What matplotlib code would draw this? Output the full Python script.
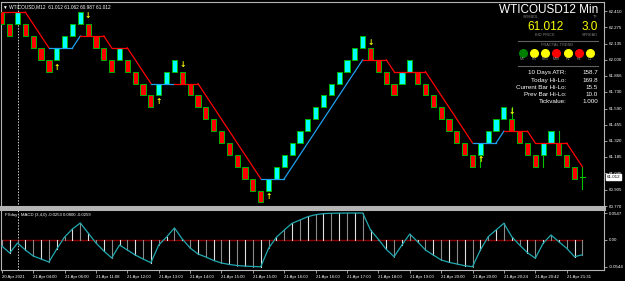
import matplotlib
matplotlib.use("Agg")
import matplotlib.pyplot as plt

# renko bricks (top price of each brick, d = down/red, u = up/cyan)
brick_top = [62.4, 62.3, 62.4, 62.3, 62.2, 62.1, 62.0, 62.1, 62.2, 62.3,
             62.4, 62.3, 62.2, 62.1, 62.0, 62.1, 62.0, 61.9, 61.8, 61.7,
             61.8, 61.9, 62.0, 61.9, 61.8, 61.7, 61.6, 61.5, 61.4, 61.3,
             61.2, 61.1, 61.0, 60.9, 61.0, 61.1, 61.2, 61.3, 61.4, 61.5,
             61.6, 61.7, 61.8, 61.9, 62.0, 62.1, 62.2, 62.1, 62.0, 61.9,
             61.8, 61.9, 62.0, 61.9, 61.8, 61.7, 61.6, 61.5, 61.4, 61.3,
             61.2, 61.3, 61.4, 61.5, 61.6, 61.5, 61.4, 61.3, 61.2, 61.3,
             61.4, 61.3, 61.2, 61.1]
brick_dir = list("dduddddu" "uuudddd" "udddduuu" "ddddddddddd" "uuuuuuuuuuuuu"
                 "dddduu" "dddddddd" "uuuu" "dddduu" "ddd")
brick_size = 0.1

# last (open) bar and wicks
last_price = 61.012
wick_x = [61, 65, 69, 71, 74]
wick_low = [61.1, 61.5, 61.1, 61.3, 60.91]
wick_high = [61.2, 61.6, 61.2, 61.4, 61.1]

# fractal arrows
up_x = [7, 20, 34, 61]
up_y = [61.933, 61.645, 60.854, 61.163]
down_x = [11, 23, 47, 65]
down_y = [62.370, 61.964, 62.143, 61.563]

# trailing trend line
trend_x = [0, 3, 6, 9, 10, 13, 14, 16, 19, 22, 25, 33, 36, 46, 49, 50, 54, 60, 63, 64, 67, 68, 72, 74]
trend_y = [62.4, 62.4, 62.1, 62.1, 62.2, 62.2, 62.1, 62.1, 61.8, 61.8, 61.8, 61.0, 61.0, 62.0,
           62.0, 61.9, 61.9, 61.3, 61.3, 61.4, 61.4, 61.3, 61.3, 61.1]
trend_dir = list("rrbbrrrrbrrbbrrrrbbrrrr")

# MACD
macd = [-0.0122, -0.0264, -0.0061, -0.0203, -0.0325, -0.0386, -0.0447, -0.0183, 0.0061, 0.0223,
        0.0345, 0.0142, -0.0061, -0.0223, -0.0365, -0.0102, -0.0203, -0.0305, -0.0386, -0.0461,
        -0.0102, 0.0061, 0.0244, 0.0020, -0.0162, -0.0284, -0.0345, -0.0416, -0.0467, -0.0497,
        -0.0518, -0.0530, -0.0538, -0.0544, -0.0168, 0.0055, 0.0203, 0.0339, 0.0406, 0.0473,
        0.0514, 0.0535, 0.0542, 0.0545, 0.0547, 0.0547, 0.0547, 0.0203, 0.0014, -0.0189,
        -0.0339, -0.0102, 0.0122, -0.0035, -0.0203, -0.0305, -0.0406, -0.0453, -0.0487, -0.0522,
        -0.0542, -0.0203, 0.0067, 0.0203, 0.0339, 0.0067, -0.0102, -0.0258, -0.0371, -0.0067,
        0.0102, -0.0035, -0.0168, -0.0339, -0.0300]

price_ticks = [62.410, 62.275, 62.135, 62.000, 61.866, 61.730, 61.590, 61.455,
               61.320, 61.185, 61.045, 60.905, 60.770]
time_labels = ["20 Apr 2021", "21 Apr 04:00", "21 Apr 06:00", "21 Apr 11:08", "21 Apr 12:00",
               "21 Apr 13:00", "21 Apr 14:00", "21 Apr 15:00", "21 Apr 15:00", "21 Apr 16:00",
               "21 Apr 16:00", "21 Apr 17:00", "21 Apr 18:00", "21 Apr 19:00", "21 Apr 20:00",
               "21 Apr 20:00", "21 Apr 20:24", "21 Apr 20:42", "21 Apr 21:31"]
time_pos = list(range(0, 76, 4))

tf_names = ["M1", "M5", "M15", "M30", "H1", "H4", "D1"]
tf_colors = ["#008000", "#ffff00", "#ffff00", "#ff0000", "#ffff00", "#ff0000", "#ffff00"]
stat_names = ["10 Days ATR:", "Today Hi-Lo:", "Current Bar Hi-Lo:", "Prev Bar Hi-Lo:", "Tickvalue:"]
stat_values = ["158.7", "169.8", "15.5", "10.0", "1.000"]

W, H = 625, 281
plt.rcParams["font.family"] = ["Liberation Sans", "DejaVu Sans"]
fig = plt.figure(figsize=(W / 100, H / 100), dpi=100, facecolor="black")


def box(l, t, r, b):
    return [l / W, 1 - b / H, (r - l) / W, (b - t) / H]


def fx(x):
    return x / W


def fy(y):
    return 1 - y / H


GRAY = "#b4b4b4"
ax = fig.add_axes(box(1, 2, 604, 207), facecolor="black")
ax2 = fig.add_axes(box(1, 209, 604, 270), facecolor="black")
xmin, xmax = -0.108, 76.76
for a in (ax, ax2):
    a.set_xlim(xmin, xmax)
    for s in a.spines.values():
        s.set_color(GRAY)
        s.set_linewidth(0.8)
    a.tick_params(axis="y", which="both", left=False, right=True, labelleft=False,
                  labelright=True, colors=GRAY, labelcolor="white", labelsize=3.2,
                  length=2, width=0.6, pad=1.2)
    a.axvline(2, color="#d0d0d0", ls=(0, (1.5, 1.5)), lw=0.7)
ax.spines["bottom"].set_linewidth(2.2)
ax2.spines["top"].set_linewidth(2.2)
ax.set_xticks([])
ax.set_ylim(60.7616, 62.4857)
ax.set_yticks(price_ticks)
ax.set_yticklabels([f"{p:.3f}" for p in price_ticks])

# bricks
n = len(brick_top)
for i in range(n):
    col = "#ff0000" if brick_dir[i] == "d" else "#00ffff"
    ax.bar(i, brick_size, bottom=brick_top[i] - brick_size, width=0.66,
           color=col, edgecolor="#00b400", linewidth=0.7, zorder=3)
for xi, lo, hi in zip(wick_x, wick_low, wick_high):
    ax.plot([xi, xi], [lo, hi], color="#00c000", lw=0.8, zorder=2)
ax.plot([n - 0.33, n + 0.33], [last_price, last_price], color="#00c000", lw=0.8, zorder=3)

# trend line
for k in range(len(trend_x) - 1):
    c = "#ff0000" if trend_dir[k] == "r" else "#1ea0ee"
    ax.plot(trend_x[k:k + 2], trend_y[k:k + 2], color=c, lw=0.9, zorder=4)

# fractal arrows
for xi, yi in zip(up_x, up_y):
    ax.text(xi, yi, "\u2191", color="#ffff00", fontsize=5.5, fontweight="bold",
            ha="center", va="center", family="DejaVu Sans", zorder=5)
for xi, yi in zip(down_x, down_y):
    ax.text(xi, yi, "\u2193", color="#ffff00", fontsize=5.5, fontweight="bold",
            ha="center", va="center", family="DejaVu Sans", zorder=5)

# current price box
ax.text(1.004, last_price, f"{last_price:.3f}", transform=ax.get_yaxis_transform(),
        color="black", fontsize=3.2, ha="left", va="center", zorder=6,
        bbox=dict(boxstyle="square,pad=0.2", fc="white", ec="white"), clip_on=False)

# MACD panel
ax2.set_ylim(-0.0609, 0.0629)
ax2.set_yticks([0.0547, 0.0, -0.0544])
ax2.set_yticklabels(["0.0547", "0.00", "-0.0544"])
mx = list(range(len(macd)))
ax2.plot([0, len(macd) - 1], [0, 0], color="#8b0000", lw=1.0, zorder=2)
for i, v in enumerate(macd):
    ax2.plot([i, i], [0, v], color="#e0e0e0" if i % 2 else "#8a8a8a", lw=0.8, zorder=3)
ax2.plot(mx, macd, color="#21a9b0", lw=0.9, zorder=4)
ax2.set_xticks(time_pos)
ax2.set_xticklabels(time_labels, ha="left")
ax2.tick_params(axis="x", colors=GRAY, labelcolor="white", labelsize=3.1, length=2.5,
                width=0.6, pad=1.2)
ax2.text(0.006, 0.93, "FXday - MACD (3,4,0) -0.0253 0.0800 -0.0259", transform=ax2.transAxes,
         color="white", fontsize=3.1, ha="left", va="top")

# header text
fig.text(fx(3), fy(6.5), "\u25bc WTICOUSD,M12  61.012 61.062 60.987 61.012", color="white",
         fontsize=3.4, ha="left", va="center")

# info panel
fig.text(fx(598), fy(10), "WTICOUSD12 Min", color="white", fontsize=8.5, ha="right", va="center")
fig.text(fx(531), fy(16.5), "SYMBOL", color="#808080", fontsize=2.8, ha="center", va="center")
fig.text(fx(595), fy(16.5), "TF", color="#808080", fontsize=2.8, ha="center", va="center")
fig.text(fx(545), fy(27), "61.012", color="#ffff00", fontsize=8.5, ha="center", va="center")
fig.text(fx(590), fy(27), "3.0", color="#ffff00", fontsize=8.5, ha="center", va="center")
fig.text(fx(545), fy(34.5), "BID PRICE", color="#808080", fontsize=2.8, ha="center", va="center")
fig.text(fx(590), fy(34.5), "SPREAD", color="#808080", fontsize=2.8, ha="center", va="center")
fig.add_artist(plt.Line2D([fx(518), fx(598)], [fy(41), fy(41)], color="#606060", lw=0.8))
fig.text(fx(557), fy(45.5), "FRACTAL TREND", color="#808080", fontsize=2.8, ha="center", va="center")
for k, (name, c) in enumerate(zip(tf_names, tf_colors)):
    xx = 522.5 + k * 11.3
    fig.add_artist(plt.Line2D([fx(xx)], [fy(52.5)], marker="o", ms=5.5, color=c, mec=c))
    fig.text(fx(xx), fy(59), name, color="#909090", fontsize=2.6, ha="center", va="center")
fig.add_artist(plt.Line2D([fx(518), fx(598)], [fy(65.5), fy(65.5)], color="#606060", lw=0.8))
for k, (name, val) in enumerate(zip(stat_names, stat_values)):
    yy = 73 + k * 7.2
    fig.text(fx(566.5), fy(yy), name, color="white", fontsize=4.5, ha="right", va="center")
    fig.text(fx(598), fy(yy), val, color="white", fontsize=4.5, ha="right", va="center")

fig.savefig("out.png", dpi=100, facecolor="black")
plt.close(fig)
